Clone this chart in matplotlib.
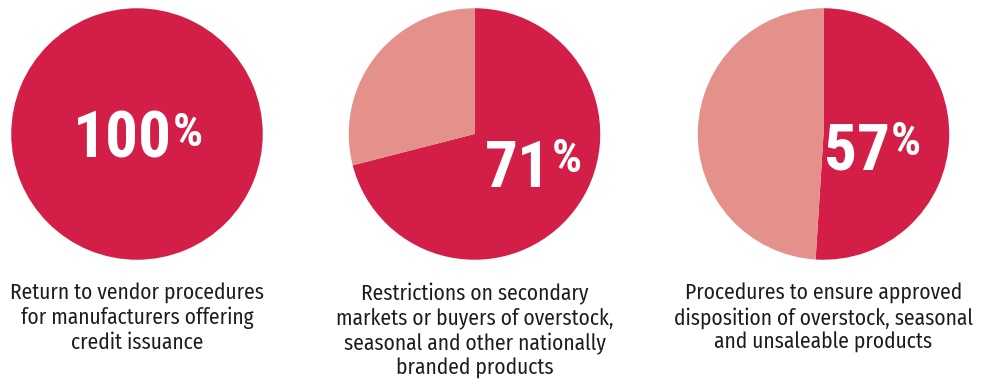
import matplotlib.pyplot as plt

# data
labels_pct = ["100", "71", "57"]
dark_share = [100, 71, 51]          # share of the dark slice as drawn
captions = [
    "Return to vendor procedures\nfor manufacturers offering\ncredit issuance",
    "Restrictions on secondary\nmarkets or buyers of overstock,\nseasonal and other nationally\nbranded products",
    "Procedures to ensure approved\ndisposition of overstock, seasonal\nand unsaleable products",
]

DARK = "#D31F47"
LIGHT = "#E4918B"
W, H = 989, 379
CAP_FONT = "Fira Sans Condensed"
NUM_FONT = "Roboto Condensed"

# layout (pixels): pie centres, number anchor (right edge, baseline), % top
centres = [(137, 134), (474.5, 134), (823.5, 134)]
radius = 127
num_pos = [(172, 158), (551, 187), (890, 170)]
pct_top = [111, 137, 120]
cap_width = 255      # width of "Return to vendor procedures" in the reference


def fx(x):
    return x / W


def fy(y):
    return 1 - y / H


fig = plt.figure(figsize=(W / 100, H / 100), dpi=100)
fig.patch.set_facecolor("white")

# size the caption font so the first line has the reference width
probe = fig.text(0, 0, captions[0].split("\n")[0], fontsize=10, family=CAP_FONT)
r = fig.canvas.get_renderer()
cap_size = 10 * cap_width / probe.get_window_extent(r).width
probe.remove()

for i, (cx, cy) in enumerate(centres):
    ax = fig.add_axes([fx(cx - radius), fy(cy + radius),
                       2 * radius / W, 2 * radius / H])
    d = dark_share[i]
    vals = [d, 100 - d] if d < 100 else [d]
    cols = [DARK, LIGHT][:len(vals)]
    ax.pie(vals, colors=cols, startangle=90, counterclock=False,
           radius=1, wedgeprops=dict(linewidth=0))
    ax.set_xlim(-1.01, 1.01)
    ax.set_ylim(-1.01, 1.01)
    ax.set_aspect("equal")
    ax.axis("off")

    nx, ny = num_pos[i]
    fig.text(fx(nx), fy(ny), labels_pct[i], ha="right", va="baseline",
             color="white", fontsize=47, fontweight="bold", family=NUM_FONT)
    fig.text(fx(nx + 1), fy(pct_top[i]), "%", ha="left", va="top",
             color="white", fontsize=34, fontweight="bold", family=NUM_FONT)

    fig.text(fx(cx), fy(282.5), captions[i], ha="center", va="top",
             color="#1c1c1c", fontsize=cap_size, linespacing=1.18,
             family=CAP_FONT)

fig.savefig("out.png", dpi=100, facecolor="white")
